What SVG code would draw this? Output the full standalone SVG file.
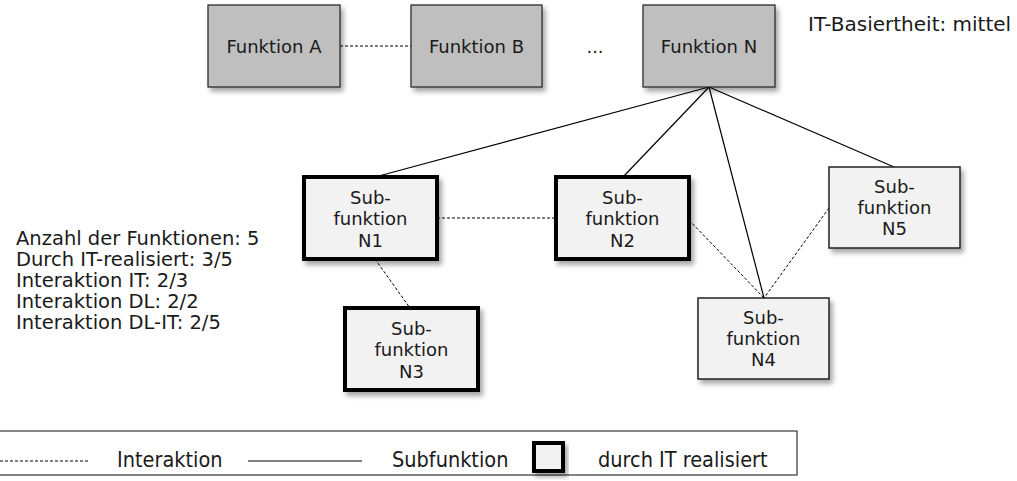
<svg xmlns="http://www.w3.org/2000/svg" width="1017" height="481" viewBox="0 0 1017 481">
  <defs>
    <filter id="shadow" x="-10%" y="-10%" width="130%" height="140%">
      <feDropShadow dx="3" dy="4" stdDeviation="2.5" flood-color="#000" flood-opacity="0.35"/>
    </filter>
  </defs>
  <style>
    text { font-family: "DejaVu Sans", Verdana, sans-serif; font-size: 18px; fill: #1a1a1a; }
    .c { text-anchor: middle; }
    .info { font-size: 19.5px; }
    .top rect { fill: #bfbfbf; stroke: #222; stroke-width: 1.2; filter: url(#shadow); }
    .sub rect { fill: #f2f2f2; stroke: #222; stroke-width: 1.5; filter: url(#shadow); }
    .sub.it rect { stroke: #000; stroke-width: 4; }
    .sub text { font-size: 18px; }
    .solid { stroke: #000; stroke-width: 1.2; fill: none; }
    .dash { stroke: #000; stroke-width: 1; stroke-dasharray: 3 2; fill: none; }
    .legend text { font-family: "DejaVu Sans Condensed", "DejaVu Sans", sans-serif; font-size: 21.5px; }
  </style>

  <rect width="1017" height="481" fill="#fff"/>

  <!-- connectors -->
  <g id="connectors">
    <line class="dash" x1="340" y1="46" x2="411" y2="46"/>
    <line class="solid" x1="709" y1="87" x2="375" y2="177"/>
    <line class="solid" x1="709" y1="87" x2="623" y2="177"/>
    <line class="solid" x1="709" y1="87" x2="764" y2="298"/>
    <line class="solid" x1="709" y1="87" x2="894" y2="167"/>
    <line class="dash" x1="437" y1="218" x2="556" y2="218"/>
    <line class="dash" x1="375" y1="259" x2="410" y2="308"/>
    <line class="dash" x1="689" y1="220" x2="764" y2="298"/>
    <line class="dash" x1="829" y1="208" x2="764" y2="298"/>
  </g>

  <!-- top-level functions -->
  <g id="funktion-a" class="top">
    <rect x="208" y="5" width="132" height="82"/>
    <text class="c" x="274" y="53">Funktion A</text>
  </g>
  <g id="funktion-b" class="top">
    <rect x="411" y="5" width="131" height="82"/>
    <text class="c" x="476.5" y="53">Funktion B</text>
  </g>
  <text id="ellipsis" class="c" x="595" y="53">...</text>
  <g id="funktion-n" class="top">
    <rect x="643" y="5" width="132" height="82"/>
    <text class="c" x="709" y="53">Funktion N</text>
  </g>

  <text id="basiertheit" x="808" y="31" style="font-size:20px">IT-Basiertheit: mittel</text>

  <!-- sub-functions -->
  <g id="sub-n1" class="sub it">
    <rect x="304" y="177" width="133" height="82"/>
    <text class="c" x="370.5" y="204">Sub-</text>
    <text class="c" x="370.5" y="225">funktion</text>
    <text class="c" x="370.5" y="247">N1</text>
  </g>
  <g id="sub-n2" class="sub it">
    <rect x="556" y="177" width="133" height="82"/>
    <text class="c" x="622.5" y="204">Sub-</text>
    <text class="c" x="622.5" y="225">funktion</text>
    <text class="c" x="622.5" y="247">N2</text>
  </g>
  <g id="sub-n3" class="sub it">
    <rect x="345" y="308" width="133" height="82"/>
    <text class="c" x="411.5" y="335">Sub-</text>
    <text class="c" x="411.5" y="356">funktion</text>
    <text class="c" x="411.5" y="378">N3</text>
  </g>
  <g id="sub-n4" class="sub">
    <rect x="698" y="298" width="131" height="81"/>
    <text class="c" x="763.5" y="324">Sub-</text>
    <text class="c" x="763.5" y="345">funktion</text>
    <text class="c" x="763.5" y="366">N4</text>
  </g>
  <g id="sub-n5" class="sub">
    <rect x="829" y="167" width="131" height="81"/>
    <text class="c" x="894.5" y="193">Sub-</text>
    <text class="c" x="894.5" y="214">funktion</text>
    <text class="c" x="894.5" y="235">N5</text>
  </g>

  <!-- key figures -->
  <g id="kennzahlen">
    <text class="info" x="16" y="245">Anzahl der Funktionen: 5</text>
    <text class="info" x="16" y="266">Durch IT-realisiert: 3/5</text>
    <text class="info" x="16" y="287">Interaktion IT: 2/3</text>
    <text class="info" x="16" y="308">Interaktion DL: 2/2</text>
    <text class="info" x="16" y="329">Interaktion DL-IT: 2/5</text>
  </g>

  <!-- legend -->
  <g id="legend" class="legend">
    <rect x="-2" y="431" width="799" height="44" fill="#fff" stroke="#333" stroke-width="1.2"/>
    <line class="dash" x1="0" y1="461" x2="89" y2="461" stroke-dasharray="2 1.5"/>
    <text x="117" y="467">Interaktion</text>
    <line class="solid" x1="248" y1="461" x2="362" y2="461"/>
    <text x="392" y="467">Subfunktion</text>
    <rect x="534" y="443" width="29" height="28" fill="#f2f2f2" stroke="#000" stroke-width="4" filter="url(#shadow)"/>
    <text x="598" y="467">durch IT realisiert</text>
  </g>
</svg>
